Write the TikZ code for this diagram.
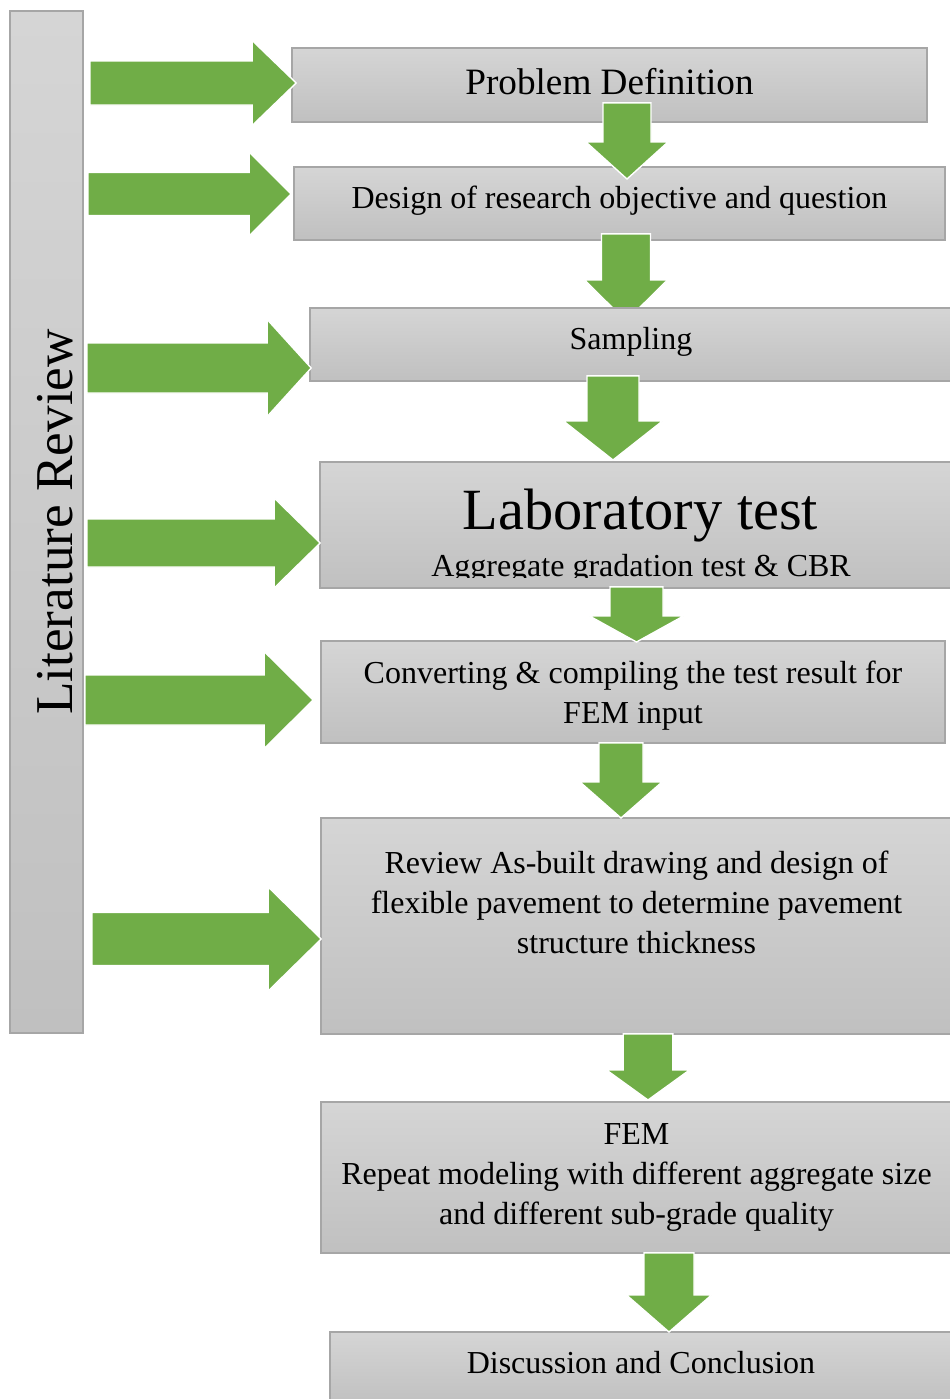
\documentclass[tikz,border=0pt]{standalone}
\usepackage{fontspec}
\setmainfont{Liberation Serif}
\usetikzlibrary{calc,positioning}

\definecolor{arrowgreen}{RGB}{112,173,71}
\definecolor{boxtop}{RGB}{213,213,213}
\definecolor{boxbottom}{RGB}{192,192,192}
\definecolor{boxline}{RGB}{166,166,166}

\newcommand{\boxfont}{\fontsize{16}{20}\selectfont}
\newcommand{\probfont}{\fontsize{18.6}{22}\selectfont}
\newcommand{\labfont}{\fontsize{29.2}{34}\selectfont}
\newcommand{\sidefont}{\fontsize{26.6}{32}\selectfont}

\begin{document}
\begin{tikzpicture}[x=0.5pt, y=-0.5pt,
  box/.style={draw=boxline, line width=0.8pt, top color=boxtop, bottom color=boxbottom, inner sep=0pt, align=center, font=\boxfont},
  txt/.style={inner sep=0pt, align=center, font=\boxfont},
  fat/.style n args={3}{fill=arrowgreen, draw=white, line width=0.7pt, line join=miter, to path={
    ($(\tikztostart)!#1!90:(\tikztotarget)$)
    -- ($(\tikztotarget)!#3!(\tikztostart)!#1!90:(\tikztotarget)$)
    -- ($(\tikztotarget)!#3!(\tikztostart)!#2!90:(\tikztotarget)$)
    -- (\tikztotarget)
    -- ($(\tikztotarget)!#3!(\tikztostart)!#2!-90:(\tikztotarget)$)
    -- ($(\tikztotarget)!#3!(\tikztostart)!#1!-90:(\tikztotarget)$)
    -- ($(\tikztostart)!#1!-90:(\tikztotarget)$) -- cycle}}]

\useasboundingbox (0,0) rectangle (949,1399);

\node[box, rotate=90, minimum width=511pt, minimum height=36.5pt, font=\sidefont, text height=25.5pt, text depth=0pt] (lit) at (46.5,522) {Literature Review};

\node[box, minimum width=317.5pt, minimum height=37pt, font=\probfont, text height=13pt, text depth=3.5pt] (prob) at (609.5,85) {Problem Definition};
\node[box, minimum width=325.5pt, minimum height=36.5pt, text height=11pt, text depth=6.5pt] (design) at (619.5,203.5) {Design of research objective and question};

\coordinate (t1) at (627,179);
\coordinate (t2) at (626,321);
\path
([yshift=10pt]prob.south -| t1) edge[fat={12pt}{20.5pt}{18.5pt}] (t1)
([yshift=3.5pt]design.south -| t2) edge[fat={12.25pt}{20.75pt}{20.5pt}] (t2)
;

\node[box, minimum width=321pt, minimum height=36.5pt, text height=11pt, text depth=6.5pt] (samp) at (631,344.5) {Sampling};
\node[box, minimum width=316pt, minimum height=63pt] (lab) at (636,525) {};
\node[txt, font=\labfont, anchor=base] (labtitle) at (640.5,529) {Laboratory test};
\begin{scope}
\clip (lab.north west) rectangle ([yshift=5.5pt]lab.south east);
\node[txt, anchor=base] (labsub) at (641,576) {Aggregate gradation test \& CBR};
\end{scope}
\node[box, minimum width=312pt, minimum height=51pt] (conv) at (633,692) {};
\node[txt, below=10pt of conv.north] (convtxt) {Converting \& compiling the test result for\\FEM input};
\node[box, minimum width=315.5pt, minimum height=108pt] (rev) at (636.5,926) {};
\node[txt, below=16.5pt of rev.north] (revtxt) {Review As-built drawing and design of\\flexible pavement to determine pavement\\structure thickness};
\node[box, minimum width=315.5pt, minimum height=75.5pt] (fem) at (636.5,1177.5) {FEM\\Repeat modeling with different aggregate size\\and different sub-grade quality};
\node[box, minimum width=311pt, minimum height=36.5pt, text height=11pt, text depth=6.5pt] (disc) at (641,1368.5) {Discussion and Conclusion};

\coordinate (t3) at (613,460);
\coordinate (t4) at (636.5,642);
\coordinate (t5) at (621,818);
\coordinate (t6) at (648,1100);
\coordinate (t7) at (669,1332);
\path
([yshift=3pt]samp.south -| t3) edge[fat={13pt}{24.75pt}{19.5pt}] (t3)
([yshift=1pt]lab.south -| t4) edge[fat={13.25pt}{23.5pt}{13pt}] (t4)
([yshift=0.5pt]conv.south -| t5) edge[fat={11pt}{20.5pt}{18pt}] (t5)
([yshift=0.5pt]rev.south -| t6) edge[fat={12.4pt}{20.75pt}{15pt}] (t6)
([yshift=0.5pt]fem.south -| t7) edge[fat={12.5pt}{21.25pt}{18.5pt}] (t7)
;

\coordinate (l1) at (90,83);
\coordinate (l2) at (88,194);
\coordinate (l3) at (87,368);
\coordinate (l4) at (87,543);
\coordinate (l5) at (85,700);
\coordinate (l6) at (92,939);
\path
(l1) edge[fat={11pt}{21.25pt}{22pt}] ([xshift=2.5pt]prob.west |- l1)
(l2) edge[fat={10.75pt}{21pt}{21pt}] ([xshift=-1pt]design.west |- l2)
(l3) edge[fat={12.5pt}{24.25pt}{22pt}] ([xshift=1pt]samp.west |- l3)
(l4) edge[fat={12pt}{22.5pt}{23pt}] ([xshift=0.5pt]lab.west |- l4)
(l5) edge[fat={12.5pt}{24.25pt}{24.5pt}] ([xshift=-3.5pt]conv.west |- l5)
(l6) edge[fat={13.25pt}{26pt}{26.5pt}] ([xshift=0.5pt]rev.west |- l6)
;
\end{tikzpicture}
\end{document}
